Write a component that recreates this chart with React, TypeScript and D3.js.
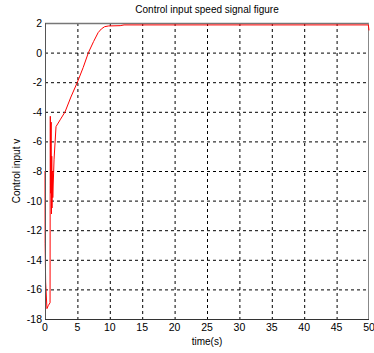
import React from "react";
import * as d3 from "d3";

const title = "Control input speed signal figure";
const xLabel = "time(s)";
const yLabel = "Control input v";
const xTicks = [0, 5, 10, 15, 20, 25, 30, 35, 40, 45, 50];
const yTicks = [2, 0, -2, -4, -6, -8, -10, -12, -14, -16, -18];

const timeValues = [
  0, 0.02, 0.1, 0.3, 0.5, 0.78, 0.8, 0.82, 0.86, 0.9, 0.95, 0.98, 1.0, 1.04, 1.08, 1.12,
  1.2, 1.4, 1.7, 2.4, 3.1, 4.0, 5.0, 5.9, 6.7, 7.5, 8.2, 8.7, 9.2, 9.8, 11.6, 12.2, 49.9, 50,
];
const speedValues = [
  -8, -12.9, -15.5, -17.3, -17.1, -16.9, -9, -4.3, -9.5, -6, -4.7, -9, -10.9, -7, -10.5, -8,
  -9.8, -7.2, -5.0, -4.5, -4.0, -3.0, -2.0, -1.0, 0.0, 0.75, 1.35, 1.6, 1.75, 1.8, 1.82, 1.87, 1.87, 1.5,
];

const W = 374;
const H = 353;
const left = 45;
const right = 369;
const top = 23;
const bottom = 319;

export default function App() {
  const x = d3.scaleLinear().domain([0, 50]).range([left, right]);
  const y = d3.scaleLinear().domain([-18, 2]).range([bottom, top]);
  const pts = timeValues.map((t, i) => [t, speedValues[i]] as [number, number]);
  const line = d3
    .line<[number, number]>()
    .x((d) => x(d[0]))
    .y((d) => y(d[1]));
  const font = "'Liberation Sans', Arial, sans-serif";
  return (
    <div style={{ position: "absolute", left: 0, top: 0 }}>
      <svg width={W} height={H} style={{ display: "block", background: "#fff" }}>
        <rect x={0} y={0} width={W} height={H} fill="#fff" />
        {xTicks.slice(1, -1).map((t) => (
          <line key={"gx" + t} x1={x(t) + 0.5} x2={x(t) + 0.5} y1={top} y2={bottom}
            stroke="#000" strokeWidth={1} strokeDasharray="3,3" />
        ))}
        {yTicks.slice(1, -1).map((t) => (
          <line key={"gy" + t} x1={left} x2={right} y1={y(t) + 0.5} y2={y(t) + 0.5}
            stroke="#000" strokeWidth={1} strokeDasharray="3,3" />
        ))}
        <line x1={left} x2={right} y1={top + 0.5} y2={top + 0.5} stroke="#777" strokeWidth={1.5} />
        <line x1={right - 0.5} x2={right - 0.5} y1={top} y2={bottom} stroke="#888" strokeWidth={1} />
        <path d={line(pts) || ""} fill="none" stroke="#ff0000" strokeWidth={1} strokeLinejoin="round" />
        <line x1={left + 0.5} x2={left + 0.5} y1={top} y2={bottom} stroke="#555" strokeWidth={1} />
        <line x1={left} x2={right} y1={bottom + 0.5} y2={bottom + 0.5} stroke="#333" strokeWidth={1} />
        {xTicks.map((t) => (
          <text key={"tx" + t} x={x(t)} y={331} textAnchor="middle" fontSize={10.5}
            fontFamily={font} fill="#000">{t}</text>
        ))}
        {yTicks.map((t) => (
          <text key={"ty" + t} x={42} y={y(t) + 4} textAnchor="end" fontSize={10.5}
            fontFamily={font} fill="#000">{t}</text>
        ))}
        <text x={(left + right) / 2} y={13} textAnchor="middle" fontSize={10} fontFamily={font} fill="#000">{title}</text>
        <text x={(left + right) / 2} y={345} textAnchor="middle" fontSize={10} fontFamily={font} fill="#000">{xLabel}</text>
        <text transform={`translate(20,${(top + bottom) / 2}) rotate(-90)`} textAnchor="middle" fontSize={10}
          fontFamily={font} fill="#000">{yLabel}</text>
      </svg>
    </div>
  );
}
